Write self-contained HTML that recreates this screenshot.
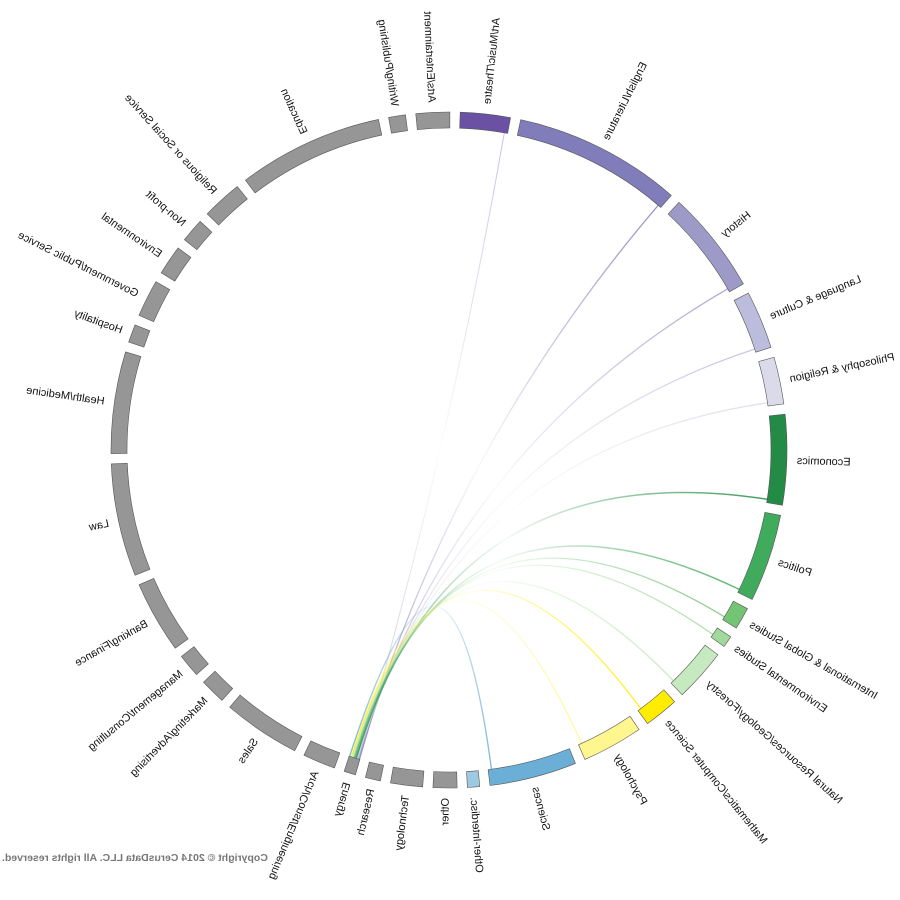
<!DOCTYPE html>
<html><head><meta charset="utf-8"><style>
html,body{margin:0;padding:0;background:#fff;}
svg{display:block;font-family:"Liberation Sans",sans-serif;}
</style></head><body>
<svg id="chart" width="900" height="900" viewBox="0 0 900 900" xmlns="http://www.w3.org/2000/svg">
<defs id="defs"></defs>
<g id="root" transform="translate(900,0) scale(-1,1)">
<g id="chords"></g>
<g id="ring"></g>
<g id="labels"></g>
<text x="898" y="861" text-anchor="end" font-size="10.5" font-weight="bold" fill="#777">Copyright © 2014 CerusData LLC.  All rights reserved.</text>
</g>
</svg>
<script>
const names=["Art/Music/Theatre","English/Literature","History","Language & Culture","Philosophy & Religion","Economics","Politics","International & Global Studies","Environmental Studies","Natural Resources/Geology/Forestry","Mathematics/Computer Science","Psychology","Sciences","Other-Interdisc.","Other","Technology","Research","Energy","Arch/Const/Engineering","Sales","Marketing/Advertising","Management/Consulting","Banking/Finance","Law","Health/Medicine","Hospitality","Government/Public Service","Environmental","Non-profit","Religious or Social Service","Education","Writing/Publishing","Arts/Entertainment"];
const values=[8.6,28.9,17.7,10,8.1,15.5,15.1,3.8,2,9.1,5.9,10.5,15,2.1,4.1,5.5,2.6,2,5.6,13.3,4.4,4,12.4,19.4,17.5,3.1,6.4,5.1,4.1,6.9,25,2.9,5.8];
const colors=["#6a51a3","#807dba","#9e9ac8","#bcbddc","#dadaeb","#238b45","#41ab5d","#74c476","#a1d99b","#c7e9c0","#ffed00","#fff68f","#6baed6","#9ecae1","#969696","#969696","#969696","#969696","#969696","#969696","#969696","#969696","#969696","#969696","#969696","#969696","#969696","#969696","#969696","#969696","#969696","#969696","#969696"];
const sourceName="Energy";
const flowTargets=["Art/Music/Theatre","English/Literature","History","Language & Culture","Philosophy & Religion","Economics","Politics","International & Global Studies","Environmental Studies","Natural Resources/Geology/Forestry","Mathematics/Computer Science","Psychology","Sciences"];
const flowValues=[0.04,0.12,0.12,0.1,0.1,0.2,0.2,0.1,0.1,0.2,0.15,0.12,0.15];

const NS="http://www.w3.org/2000/svg";
const cx=451, cy=450, rIn=322, rOut=338;
const gap=1.75, startAt=1.9;
const total=values.reduce((a,b)=>a+b,0);
const k=(360-gap*values.length)/total;
const groups=[];
let cur=startAt;
values.forEach((v,i)=>{groups.push({s:cur,e:cur+v*k});cur+=v*k+gap;});
function pt(phi,r){const t=-phi*Math.PI/180;return [cx+r*Math.sin(t),cy-r*Math.cos(t)];}
const ring=document.getElementById('ring');
const labels=document.getElementById('labels');
groups.forEach((g,i)=>{
  const a=pt(g.s,rOut),b=pt(g.e,rOut),c=pt(g.e,rIn),d=pt(g.s,rIn);
  const large=(g.e-g.s)>180?1:0;
  const p=document.createElementNS(NS,'path');
  p.setAttribute('d',`M${a[0]},${a[1]}A${rOut},${rOut} 0 ${large} 0 ${b[0]},${b[1]}L${c[0]},${c[1]}A${rIn},${rIn} 0 ${large} 1 ${d[0]},${d[1]}Z`);
  p.setAttribute('fill',colors[i]);
  p.setAttribute('stroke','#555');
  p.setAttribute('stroke-width','0.6');
  
  
  ring.appendChild(p);
  const mid=(g.s+g.e)/2;
  const th=360-mid;
  const t=document.createElementNS(NS,'text');
  let tr=`translate(${cx},${cy}) rotate(${th-90}) translate(${rOut+10},0)`;
  if(th>180){tr+=' rotate(180)';t.setAttribute('text-anchor','end');}
  t.setAttribute('transform',tr);
  t.setAttribute('dy','0.35em');
  t.setAttribute('font-size','11');
  t.setAttribute('fill','#111');
  t.textContent=names[i];
  
  
  labels.appendChild(t);
});
const chords=document.getElementById('chords');
const defs=document.getElementById('defs');
const si=names.indexOf(sourceName);
const sg=groups[si];
const fTot=flowValues.reduce((a,b)=>a+b,0);
let sc=sg.s;
flowTargets.forEach((tn,j)=>{
  const ti=names.indexOf(tn);
  const tg=groups[ti];
  const w=flowValues[j]/fTot*(sg.e-sg.s);
  const sa=sc+w/2; sc+=w;
  const ta=tg.e-0.6;
  const p0=pt(sa,rIn), p2=pt(ta,rIn);
  const gid='cg'+j;
  const lg=document.createElementNS(NS,'linearGradient');
  lg.setAttribute('id',gid);
  lg.setAttribute('gradientUnits','userSpaceOnUse');
  lg.setAttribute('x1',p0[0]);lg.setAttribute('y1',p0[1]);
  lg.setAttribute('x2',p2[0]);lg.setAttribute('y2',p2[1]);
  [[0,0.85],[0.5,0.05],[1,0.85]].forEach(([o,op])=>{
    const s=document.createElementNS(NS,'stop');
    s.setAttribute('offset',o);s.setAttribute('stop-color',colors[ti]);s.setAttribute('stop-opacity',op*Math.min(1,flowValues[j]*10));
    lg.appendChild(s);
  });
  defs.appendChild(lg);
  const p=document.createElementNS(NS,'path');
  p.setAttribute('d',`M${p0[0]},${p0[1]}Q${cx},${cy} ${p2[0]},${p2[1]}`);
  p.setAttribute('fill','none');
  p.setAttribute('stroke',`url(#${gid})`);
  p.setAttribute('stroke-width',1+flowValues[j]*2.5);
  
  
  chords.appendChild(p);
});
</script>
</body></html>
